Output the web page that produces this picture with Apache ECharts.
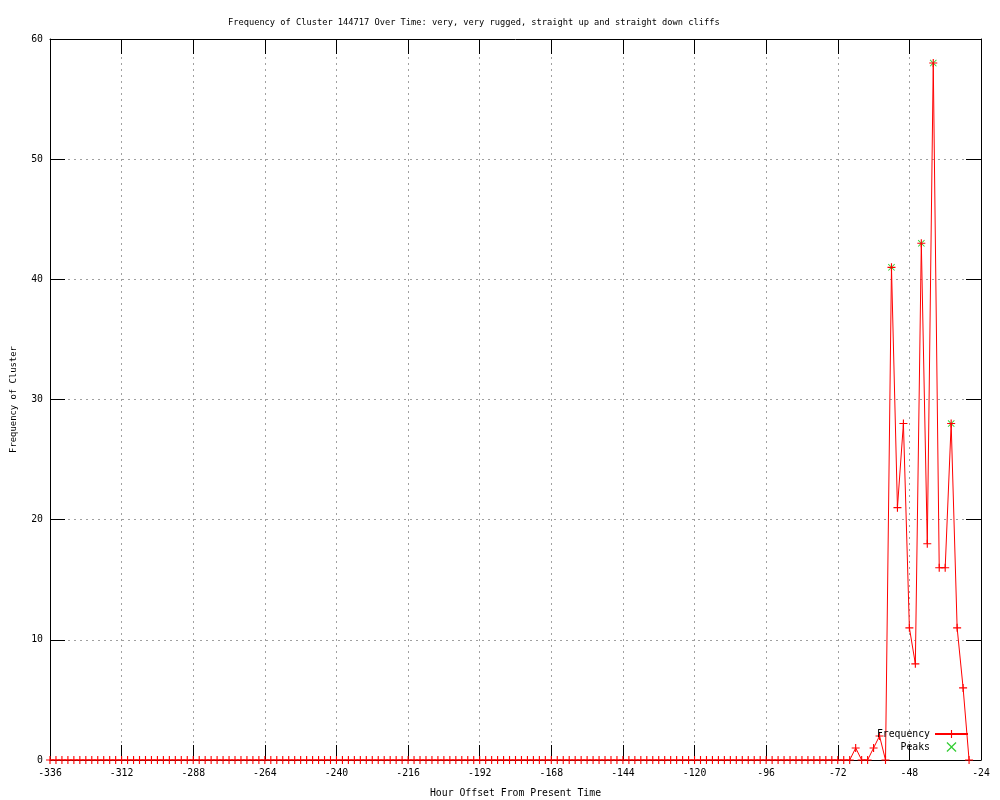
<!DOCTYPE html>
<html>
<head>
<meta charset="utf-8">
<title>Frequency of Cluster 144717</title>
<script src="https://cdn.jsdelivr.net/npm/echarts@6/dist/echarts.min.js"></script>
<style>
  html, body { margin: 0; padding: 0; background: #fff; }
  #chart { width: 1000px; height: 800px; }
</style>
</head>
<body>
<div id="chart"></div>
<script>
// hours before present, one point every 2 hours
const hours = [
  -336, -334, -332, -330, -328, -326, -324, -322, -320, -318, -316, -314,
  -312, -310, -308, -306, -304, -302, -300, -298, -296, -294, -292, -290,
  -288, -286, -284, -282, -280, -278, -276, -274, -272, -270, -268, -266,
  -264, -262, -260, -258, -256, -254, -252, -250, -248, -246, -244, -242,
  -240, -238, -236, -234, -232, -230, -228, -226, -224, -222, -220, -218,
  -216, -214, -212, -210, -208, -206, -204, -202, -200, -198, -196, -194,
  -192, -190, -188, -186, -184, -182, -180, -178, -176, -174, -172, -170,
  -168, -166, -164, -162, -160, -158, -156, -154, -152, -150, -148, -146,
  -144, -142, -140, -138, -136, -134, -132, -130, -128, -126, -124, -122,
  -120, -118, -116, -114, -112, -110, -108, -106, -104, -102, -100, -98,
  -96, -94, -92, -90, -88, -86, -84, -82, -80, -78, -76, -74,
  -72, -70, -68, -66, -64, -62, -60, -58, -56, -54, -52, -50,
  -48, -46, -44, -42, -40, -38, -36, -34, -32, -30, -28
];

const frequency = [
  0, 0, 0, 0, 0, 0, 0, 0, 0, 0, 0, 0,
  0, 0, 0, 0, 0, 0, 0, 0, 0, 0, 0, 0,
  0, 0, 0, 0, 0, 0, 0, 0, 0, 0, 0, 0,
  0, 0, 0, 0, 0, 0, 0, 0, 0, 0, 0, 0,
  0, 0, 0, 0, 0, 0, 0, 0, 0, 0, 0, 0,
  0, 0, 0, 0, 0, 0, 0, 0, 0, 0, 0, 0,
  0, 0, 0, 0, 0, 0, 0, 0, 0, 0, 0, 0,
  0, 0, 0, 0, 0, 0, 0, 0, 0, 0, 0, 0,
  0, 0, 0, 0, 0, 0, 0, 0, 0, 0, 0, 0,
  0, 0, 0, 0, 0, 0, 0, 0, 0, 0, 0, 0,
  0, 0, 0, 0, 0, 0, 0, 0, 0, 0, 0, 0,
  0, 0, 0, 1, 0, 0, 1, 2, 0, 41, 21, 28,
  11, 8, 43, 18, 58, 16, 16, 28, 11, 6, 0
];

const peakHours = [-54, -44, -40, -34];
const peakValues = [41, 43, 58, 28];

const FONT = 'DejaVu Sans Mono';
const FS = 9.8;

// gnuplot style markers
const PLUS = 'path://M4.3,0H5.7V4.3H10V5.7H5.7V10H4.3V5.7H0V4.3H4.3Z';
const CROSS = 'path://M0,0.9L0.9,0L5,4.1L9.1,0L10,0.9L5.9,5L10,9.1L9.1,10L5,5.9L0.9,10L0,9.1L4.1,5Z';

const chart = echarts.init(document.getElementById('chart'));

const gridLine = { show: true, lineStyle: { color: '#a0a0a0', type: [2, 4], width: 1 } };
const tick = { show: true, inside: true, length: 15, lineStyle: { color: '#000', width: 1 } };
const border = { show: true, onZero: false, lineStyle: { color: '#000', width: 1 } };

chart.setOption({
  animation: false,
  backgroundColor: '#fff',
  textStyle: { fontFamily: FONT, fontSize: FS, color: '#000' },
  title: {
    text: 'Frequency of Cluster 144717 Over Time: very, very rugged, straight up and straight down cliffs',
    left: 223,
    top: 13,
    textStyle: { fontFamily: FONT, fontSize: 8.7, fontWeight: 'normal', color: '#000' }
  },
  legend: {
    orient: 'vertical',
    right: 26,
    bottom: 43,
    align: 'right',
    itemWidth: 33,
    itemHeight: 10,
    itemGap: 3,
    textStyle: { fontFamily: FONT, fontSize: FS, color: '#000' },
    data: ['Frequency', 'Peaks']
  },
  grid: { left: 50, right: 19, top: 39, bottom: 40, outerBoundsMode: 'none' },
  xAxis: [
    {
      type: 'value',
      position: 'bottom',
      min: -336,
      max: -24,
      interval: 24,
      name: 'Hour Offset From Present Time',
      nameLocation: 'middle',
      nameGap: 28,
      nameTextStyle: { fontFamily: FONT, fontSize: FS, color: '#000' },
      axisLine: border,
      axisTick: tick,
      axisLabel: { fontFamily: FONT, fontSize: FS, color: '#000', margin: 8 },
      splitLine: gridLine
    },
    {
      type: 'value',
      position: 'top',
      min: -336,
      max: -24,
      interval: 24,
      axisLine: border,
      axisTick: tick,
      axisLabel: { show: false },
      splitLine: { show: false }
    }
  ],
  yAxis: [
    {
      type: 'value',
      position: 'left',
      min: 0,
      max: 60,
      interval: 10,
      name: 'Frequency of Cluster',
      nameLocation: 'middle',
      nameGap: 32,
      nameTextStyle: { fontFamily: FONT, fontSize: 8.9, color: '#000' },
      axisLine: border,
      axisTick: tick,
      axisLabel: { fontFamily: FONT, fontSize: FS, color: '#000', margin: 7 },
      splitLine: gridLine
    },
    {
      type: 'value',
      position: 'right',
      min: 0,
      max: 60,
      interval: 10,
      axisLine: border,
      axisTick: tick,
      axisLabel: { show: false },
      splitLine: { show: false }
    }
  ],
  series: [
    {
      name: 'Peaks',
      type: 'scatter',
      data: peakHours.map((h, i) => [h, peakValues[i]]),
      symbol: CROSS,
      symbolSize: 7,
      color: '#00c000',
      itemStyle: { color: '#00c000' },
      z: 2
    },
    {
      name: 'Frequency',
      type: 'line',
      data: hours.map((h, i) => [h, frequency[i]]),
      symbol: PLUS,
      symbolSize: 8,
      showAllSymbol: true,
      color: '#ff0000',
      itemStyle: { color: '#ff0000' },
      lineStyle: { color: '#ff0000', width: 1 },
      z: 3
    }
  ]
});
</script>
</body>
</html>
